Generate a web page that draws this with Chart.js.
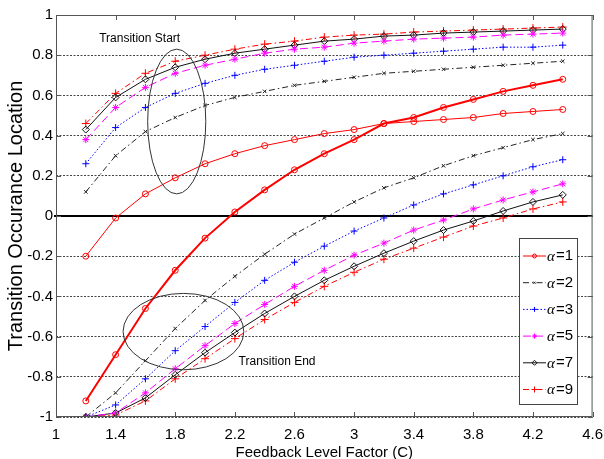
<!DOCTYPE html>
<html>
<head>
<meta charset="utf-8">
<script src="https://cdn.jsdelivr.net/npm/chart.js@4.4.0/dist/chart.umd.min.js"></script>
<style>
    body { margin: 0; background: #fff; }
    canvas { display: block; }
</style>
</head>
<body>
<canvas id="grafico-transicao" width="604" height="459"></canvas>
<script>
const fatores = [1.2, 1.4, 1.6, 1.8, 2.0, 2.2, 2.4, 2.6, 2.8, 3.0, 3.2, 3.4, 3.6, 3.8, 4.0, 4.2, 4.4];

const inicioA1 = [-0.20, -0.01, 0.11, 0.19, 0.26, 0.31, 0.35, 0.38, 0.41, 0.43, 0.46, 0.47, 0.48, 0.49, 0.51, 0.52, 0.53];
const fimA1 = [-0.92, -0.69, -0.46, -0.27, -0.11, 0.02, 0.13, 0.23, 0.31, 0.38, 0.46, 0.49, 0.54, 0.58, 0.62, 0.65, 0.68];
const inicioA2 = [0.12, 0.30, 0.42, 0.49, 0.55, 0.59, 0.62, 0.65, 0.67, 0.69, 0.71, 0.72, 0.73, 0.74, 0.75, 0.76, 0.77];
const fimA2 = [-1, -0.88, -0.72, -0.56, -0.42, -0.30, -0.19, -0.09, -0.01, 0.07, 0.14, 0.19, 0.25, 0.30, 0.34, 0.38, 0.41];
const inicioA3 = [0.26, 0.44, 0.54, 0.61, 0.66, 0.70, 0.73, 0.75, 0.77, 0.79, 0.80, 0.81, 0.82, 0.83, 0.84, 0.84, 0.85];
const fimA3 = [-1, -0.94, -0.81, -0.67, -0.55, -0.43, -0.32, -0.23, -0.15, -0.075, -0.01, 0.055, 0.11, 0.155, 0.20, 0.245, 0.28];
const inicioA5 = [0.38, 0.54, 0.64, 0.71, 0.75, 0.78, 0.81, 0.83, 0.84, 0.86, 0.87, 0.88, 0.885, 0.89, 0.90, 0.905, 0.91];
const fimA5 = [-1, -0.98, -0.88, -0.76, -0.645, -0.535, -0.44, -0.35, -0.27, -0.195, -0.135, -0.07, -0.02, 0.035, 0.08, 0.12, 0.16];
const inicioA7 = [0.43, 0.59, 0.68, 0.74, 0.78, 0.81, 0.83, 0.85, 0.87, 0.88, 0.895, 0.90, 0.91, 0.915, 0.92, 0.925, 0.93];
const fimA7 = [-1, -0.98, -0.905, -0.79, -0.68, -0.58, -0.485, -0.40, -0.32, -0.25, -0.185, -0.125, -0.07, -0.025, 0.025, 0.07, 0.105];
const inicioA9 = [0.46, 0.61, 0.71, 0.77, 0.80, 0.83, 0.855, 0.87, 0.89, 0.90, 0.905, 0.915, 0.92, 0.925, 0.93, 0.935, 0.94];
const fimA9 = [-1, -0.99, -0.92, -0.81, -0.71, -0.61, -0.515, -0.43, -0.35, -0.28, -0.215, -0.16, -0.105, -0.05, -0.01, 0.035, 0.07];

const alfas = ["1", "2", "3", "5", "7", "9"];
const marcasX = [1, 1.4, 1.8, 2.2, 2.6, 3, 3.4, 3.8, 4.2, 4.6];
const marcasY = [-1, -0.8, -0.6, -0.4, -0.2, 0, 0.2, 0.4, 0.6, 0.8, 1];

const FONTE = "'Liberation Sans', Arial, sans-serif";

// o original tem letras estreitas: usa a Narrow se existir
function temFonte(nome) {
    const c = document.createElement('canvas').getContext('2d');
    c.font = "40px monospace";
    const base = c.measureText('Transition 0.123').width;
    c.font = "40px '" + nome + "', monospace";
    return c.measureText('Transition 0.123').width !== base;
}
const estreita = temFonte('Liberation Sans Narrow');
const FONTE_H = estreita ? "'Liberation Sans Narrow', 'Liberation Sans', sans-serif" : FONTE;
const tam = estreita ? { ticks: 16, titulo: 17, nota: 14, legenda: 16 } : { ticks: 15, titulo: 15, nota: 12, legenda: 15 };

// estilo de cada alfa (cor, traço, marcador)
const estilos = [
    { cor: '#ff0000', traco: [], marcador: 'circle', raio: 3 },
    { cor: '#222222', traco: [6, 3, 1.5, 3], marcador: 'crossRot', raio: 2.5 },
    { cor: '#0000ff', traco: [1.5, 2], marcador: 'cross', raio: 3.5 },
    { cor: '#ff00ff', traco: [8, 4], marcador: 'star', raio: 3.5 },
    { cor: '#111111', traco: [], marcador: 'rectRot', raio: 3.5 },
    { cor: '#ff0000', traco: [6, 3, 1.5, 3], marcador: 'cross', raio: 4 }
];

const inicios = [inicioA1, inicioA2, inicioA3, inicioA5, inicioA7, inicioA9];
const fins = [fimA1, fimA2, fimA3, fimA5, fimA7, fimA9];

function serie(valores, estilo, largura, rotulo) {
    return {
        label: rotulo,
        data: fatores.map((x, i) => ({ x: x, y: valores[i] })),
        borderColor: estilo.cor,
        borderWidth: largura,
        borderDash: estilo.traco,
        pointStyle: estilo.marcador,
        pointRadius: estilo.raio,
        pointBorderColor: estilo.cor,
        pointBackgroundColor: 'rgba(0,0,0,0)',
        pointBorderWidth: 1,
        tension: 0,
        fill: false
    };
}

let datasets = [];
alfas.forEach((a, i) => {
    datasets.push(serie(inicios[i], estilos[i], 1, 'α=' + a));
    datasets.push(serie(fins[i], estilos[i], i === 0 ? 2 : 1, ''));
});

// moldura, linha do zero, marcas internas, elipses e legenda
const extras = {
    id: 'extras',
    beforeDatasetsDraw(chart) {
        const { ctx, chartArea: a, scales: { y } } = chart;
        ctx.save();
        ctx.strokeStyle = '#000';
        ctx.lineWidth = 2;
        ctx.beginPath();
        ctx.moveTo(a.left - 2, y.getPixelForValue(0));
        ctx.lineTo(a.right, y.getPixelForValue(0));
        ctx.stroke();
        ctx.restore();
    },
    afterDatasetsDraw(chart) {
        const { ctx, chartArea: a, scales: { x, y } } = chart;
        ctx.save();
        ctx.strokeStyle = '#555';
        ctx.lineWidth = 1;
        ctx.strokeRect(a.left + 0.5, a.top + 0.5, a.right - a.left - 1, a.bottom - a.top - 1);
        ctx.beginPath();
        marcasX.forEach(v => {
            const px = Math.round(x.getPixelForValue(v)) + 0.5;
            ctx.moveTo(px, a.top); ctx.lineTo(px, a.top + 5);
            ctx.moveTo(px, a.bottom); ctx.lineTo(px, a.bottom - 5);
        });
        marcasY.forEach(v => {
            const py = Math.round(y.getPixelForValue(v)) + 0.5;
            ctx.moveTo(a.left, py); ctx.lineTo(a.left + 5, py);
            ctx.moveTo(a.right, py); ctx.lineTo(a.right - 5, py);
        });
        ctx.stroke();

        // elipses de anotação
        const elipses = [
            { cx: 1.81, cy: 0.47, rx: 0.195, ry: 0.36 },
            { cx: 1.855, cy: -0.575, rx: 0.405, ry: 0.19 }
        ];
        ctx.strokeStyle = '#333';
        elipses.forEach(e => {
            const cx = x.getPixelForValue(e.cx), cy = y.getPixelForValue(e.cy);
            const rx = Math.abs(x.getPixelForValue(e.cx + e.rx) - cx);
            const ry = Math.abs(y.getPixelForValue(e.cy + e.ry) - cy);
            ctx.beginPath();
            ctx.ellipse(cx, cy, rx, ry, 0, 0, Math.PI * 2);
            ctx.stroke();
        });

        ctx.fillStyle = '#000';
        ctx.font = tam.nota + 'px ' + FONTE_H;
        ctx.textBaseline = 'middle';
        ctx.fillText('Transition Start', x.getPixelForValue(1.29), y.getPixelForValue(0.88));
        ctx.fillText('Transition End', x.getPixelForValue(2.225), y.getPixelForValue(-0.727));

        // legenda
        const lx = 519, ly = 238, lw = 58, lh = 166;
        ctx.fillStyle = '#fff';
        ctx.fillRect(lx, ly, lw, lh);
        ctx.strokeStyle = '#444';
        ctx.strokeRect(lx + 0.5, ly + 0.5, lw, lh);
        alfas.forEach((a, i) => {
            const est = estilos[i];
            const yy = ly + 18 + i * 26.7;
            ctx.save();
            ctx.strokeStyle = est.cor;
            ctx.fillStyle = 'rgba(0,0,0,0)';
            ctx.lineWidth = 1;
            ctx.setLineDash(est.traco);
            ctx.beginPath();
            ctx.moveTo(lx + 4, yy); ctx.lineTo(lx + 27, yy);
            ctx.stroke();
            ctx.setLineDash([]);
            Chart.helpers.drawPoint(ctx, {
                pointStyle: est.marcador, radius: est.raio - 1, rotation: 0, borderWidth: 1
            }, lx + 15.5, yy);
            ctx.restore();
            ctx.fillStyle = '#000';
            ctx.textBaseline = 'middle';
            ctx.font = 'italic ' + tam.legenda + 'px "Liberation Serif", serif';
            ctx.fillText('α', lx + 28, yy + 1);
            ctx.font = tam.legenda + 'px ' + FONTE_H;
            ctx.fillText('=' + a, lx + 37, yy);
        });
        ctx.restore();
    }
};

const config = {
    type: 'line',
    data: { datasets: datasets },
    options: {
        responsive: false,
        animation: false,
        devicePixelRatio: 1,
        layout: { padding: { top: 15, right: 10, left: 0, bottom: 0 } },
        plugins: {
            legend: { display: false },
            tooltip: { enabled: false }
        },
        scales: {
            x: {
                type: 'linear',
                min: 1,
                max: 4.6,
                afterBuildTicks: s => { s.ticks = marcasX.map(v => ({ value: v })); },
                afterFit: s => { s.height = 42; },
                grid: { display: false },
                border: { display: false },
                ticks: {
                    color: '#000',
                    font: { family: FONTE_H, size: tam.ticks },
                    padding: 1,
                    maxRotation: 0,
                    callback: v => String(+v.toFixed(1))
                },
                title: {
                    display: true,
                    text: 'Feedback Level Factor (C)',
                    color: '#000',
                    font: { family: FONTE_H, size: tam.titulo },
                    padding: { top: 0, bottom: -3 }
                }
            },
            y: {
                type: 'linear',
                min: -1,
                max: 1,
                afterBuildTicks: s => { s.ticks = marcasY.map(v => ({ value: v })); },
                afterFit: s => { s.width = 56; },
                grid: { color: '#444', lineWidth: 1, drawTicks: false },
                border: { display: false, dash: [2, 1.5] },
                ticks: {
                    color: '#000',
                    font: { family: FONTE_H, size: tam.ticks },
                    padding: 3,
                    callback: v => String(+v.toFixed(1))
                },
                title: {
                    display: true,
                    text: 'Transition Occurance Location',
                    color: '#000',
                    font: { family: FONTE, size: 20 },
                    padding: { top: 4, bottom: 0 }
                }
            }
        }
    },
    plugins: [extras]
};

new Chart(document.getElementById('grafico-transicao'), config);
</script>
</body>
</html>
